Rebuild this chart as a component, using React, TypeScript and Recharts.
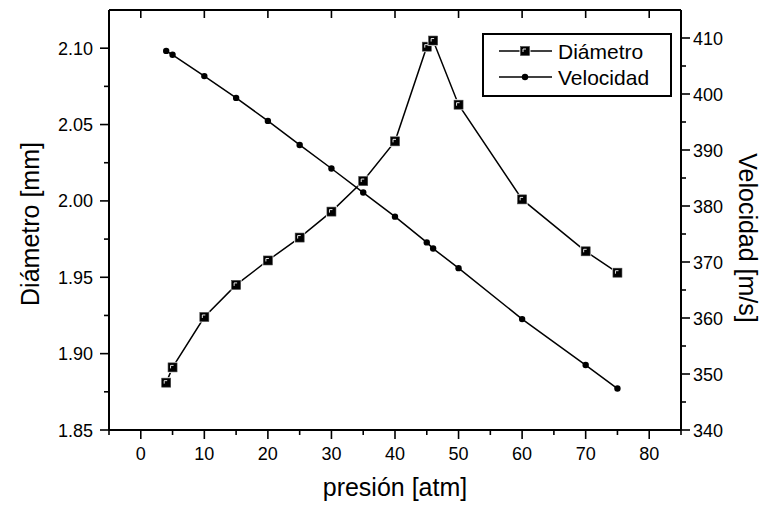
import React from 'react';
import { ComposedChart, Line, XAxis, YAxis, Legend } from 'recharts';

// Measurements: pressure [atm], droplet diameter [mm], velocity [m/s]
const pressure = [4, 5, 10, 15, 20, 25, 30, 35, 40, 45, 46, 50, 60, 70, 75];
const diameter = [1.881, 1.891, 1.924, 1.945, 1.961, 1.976, 1.993, 2.013, 2.039, 2.101, 2.105, 2.063, 2.001, 1.967, 1.953];
const velocity = [407.7, 407.0, 403.2, 399.3, 395.2, 390.9, 386.7, 382.4, 378.1, 373.5, 372.4, 368.9, 359.8, 351.6, 347.4];

// Axis ticks (majors carry labels, the rest are minor ticks)
const xTicks = [-5, 0, 5, 10, 15, 20, 25, 30, 35, 40, 45, 50, 55, 60, 65, 70, 75, 80, 85];
const xTopTicks = [0, 10, 20, 30, 40, 50, 60, 70, 80];
const diameterTicks = [1.85, 1.875, 1.9, 1.925, 1.95, 1.975, 2.0, 2.025, 2.05, 2.075, 2.1];
const velocityTicks = [340, 345, 350, 355, 360, 365, 370, 375, 380, 385, 390, 395, 400, 405, 410];

const xDomain = [-5, 85];
const diameterDomain = [1.85, 2.125];
const velocityDomain = [340, 415];

const rows = pressure.map((p, i) => ({ p, d: diameter[i], v: velocity[i] }));

const FONT = '"Liberation Sans", Arial, Helvetica, sans-serif';
const INK = '#000';

const BottomTick = (props: any) => {
  const { x, y, payload } = props;
  const v = payload.value;
  const major = v % 10 === 0;
  return (
    <g>
      <line x1={x} x2={x} y1={y} y2={y + (major ? 9 : 5)} stroke={INK} strokeWidth={1.6} />
      {major && (
        <text x={x} y={y + 30} textAnchor="middle" fontSize={18} fontFamily={FONT} fill={INK}>
          {v}
        </text>
      )}
    </g>
  );
};

const TopTick = (props: any) => {
  const { x, y } = props;
  return <line x1={x} x2={x} y1={y} y2={y + 8} stroke={INK} strokeWidth={1.6} />;
};

const LeftTick = (props: any) => {
  const { x, y, payload } = props;
  const v = payload.value;
  const major = Math.abs(Math.round(v * 20) - v * 20) < 1e-6;
  return (
    <g>
      <line x1={x} x2={x - (major ? 9 : 5)} y1={y} y2={y} stroke={INK} strokeWidth={1.6} />
      {major && (
        <text x={x - 16} y={y + 6.5} textAnchor="end" fontSize={18} fontFamily={FONT} fill={INK}>
          {v.toFixed(2)}
        </text>
      )}
    </g>
  );
};

const RightTick = (props: any) => {
  const { x, y, payload } = props;
  const v = payload.value;
  const major = v % 10 === 0;
  return (
    <g>
      <line x1={x} x2={x + (major ? 9 : 5)} y1={y} y2={y} stroke={INK} strokeWidth={1.6} />
      {major && (
        <text x={x + 12} y={y + 6.5} textAnchor="start" fontSize={18} fontFamily={FONT} fill={INK}>
          {v}
        </text>
      )}
    </g>
  );
};

const squareMark = (cx: number, cy: number, key?: any) => (
  <g key={key}>
    <rect x={cx - 5.5} y={cy - 5.5} width={11} height={11} fill="#fff" />
    <rect x={cx - 4.5} y={cy - 4.5} width={9} height={9} fill="#000" stroke="#444" strokeWidth={0.6} />
    <path d={`M${cx - 2},${cy + 1} V${cy - 2} H${cx + 1}`} fill="none" stroke="#fff" strokeWidth={0.9} />
  </g>
);

const dotMark = (cx: number, cy: number, key?: any) => (
  <circle key={key} cx={cx} cy={cy} r={3.2} fill="#000" />
);

const SquareDot = (props: any) => squareMark(props.cx, props.cy, `sq-${props.index}`);
const RoundDot = (props: any) => dotMark(props.cx, props.cy, `dt-${props.index}`);

const LegendBox = (props: any) => {
  const items = props.payload || [];
  return (
    <svg width={190} height={64} style={{ display: 'block' }}>
      <rect x={1} y={1} width={188} height={62} fill="#fff" stroke={INK} strokeWidth={2} />
      {items.map((item: any, i: number) => {
        const cy = 18 + i * 26;
        const isSquare = item.dataKey === 'd';
        return (
          <g key={item.value}>
            <line x1={17} x2={70} y1={cy} y2={cy} stroke={INK} strokeWidth={1.6} />
            {isSquare ? squareMark(43, cy) : dotMark(43, cy)}
            <text x={76} y={cy + 7.5} fontSize={21} fontFamily={FONT} fill={INK}>
              {item.value}
            </text>
          </g>
        );
      })}
    </svg>
  );
};

export default function App() {
  return (
    <div style={{ margin: -8, width: 769, height: 509, background: '#fff' }}>
      <ComposedChart
        width={769}
        height={509}
        data={rows}
        margin={{ top: 0, right: 28, bottom: 39, left: 49 }}
      >
        <XAxis
          xAxisId="top"
          orientation="top"
          type="number"
          dataKey="p"
          domain={xDomain}
          ticks={xTopTicks}
          interval={0}
          allowDataOverflow
          height={10}
          tickSize={0}
          tickMargin={0}
          tick={<TopTick />}
          axisLine={{ stroke: INK, strokeWidth: 2 }}
          tickLine={false}
        />
        <XAxis
          xAxisId="b"
          type="number"
          dataKey="p"
          domain={xDomain}
          ticks={xTicks}
          interval={0}
          allowDataOverflow
          height={40}
          tickSize={0}
          tickMargin={0}
          tick={<BottomTick />}
          axisLine={{ stroke: INK, strokeWidth: 2 }}
          tickLine={false}
          label={{
            content: (p: any) => {
              const vb = p.viewBox;
              return (
                <text x={vb.x + vb.width / 2} y={vb.y + 66} textAnchor="middle" fontSize={25} fontFamily={FONT} fill={INK}>
                  presión [atm]
                </text>
              );
            },
          }}
        />
        <YAxis
          yAxisId="d"
          type="number"
          domain={diameterDomain}
          ticks={diameterTicks}
          interval={0}
          allowDataOverflow
          width={60}
          tickSize={0}
          tickMargin={0}
          tick={<LeftTick />}
          axisLine={{ stroke: INK, strokeWidth: 2 }}
          tickLine={false}
          label={{
            content: (p: any) => {
              const vb = p.viewBox;
              const cx = vb.x - 19;
              const cy = vb.y + vb.height / 2 + 4;
              return (
                <text x={cx} y={cy} transform={`rotate(-90 ${cx} ${cy})`} textAnchor="middle" dominantBaseline="central" fontSize={25} fontFamily={FONT} fill={INK}>
                  Diámetro [mm]
                </text>
              );
            },
          }}
        />
        <YAxis
          yAxisId="v"
          orientation="right"
          type="number"
          domain={velocityDomain}
          ticks={velocityTicks}
          interval={0}
          allowDataOverflow
          width={60}
          tickSize={0}
          tickMargin={0}
          tick={<RightTick />}
          axisLine={{ stroke: INK, strokeWidth: 2 }}
          tickLine={false}
          label={{
            content: (p: any) => {
              const vb = p.viewBox;
              const cx = vb.x + 67;
              const cy = vb.y + vb.height / 2 + 18;
              return (
                <text x={cx} y={cy} transform={`rotate(90 ${cx} ${cy})`} textAnchor="middle" dominantBaseline="central" fontSize={25} fontFamily={FONT} fill={INK}>
                  Velocidad [m/s]
                </text>
              );
            },
          }}
        />
        <Legend
          layout="horizontal"
          verticalAlign="middle"
          align="center"
          content={<LegendBox />}
          wrapperStyle={{ position: 'absolute', left: 482, top: 33, width: 190, height: 64 }}
        />
        <Line
          xAxisId="b"
          yAxisId="d"
          dataKey="d"
          name="Diámetro"
          type="linear"
          stroke={INK}
          strokeWidth={1.5}
          dot={SquareDot}
          activeDot={false}
          isAnimationActive={false}
        />
        <Line
          xAxisId="b"
          yAxisId="v"
          dataKey="v"
          name="Velocidad"
          type="linear"
          stroke={INK}
          strokeWidth={1.5}
          dot={RoundDot}
          activeDot={false}
          isAnimationActive={false}
        />
      </ComposedChart>
    </div>
  );
}
